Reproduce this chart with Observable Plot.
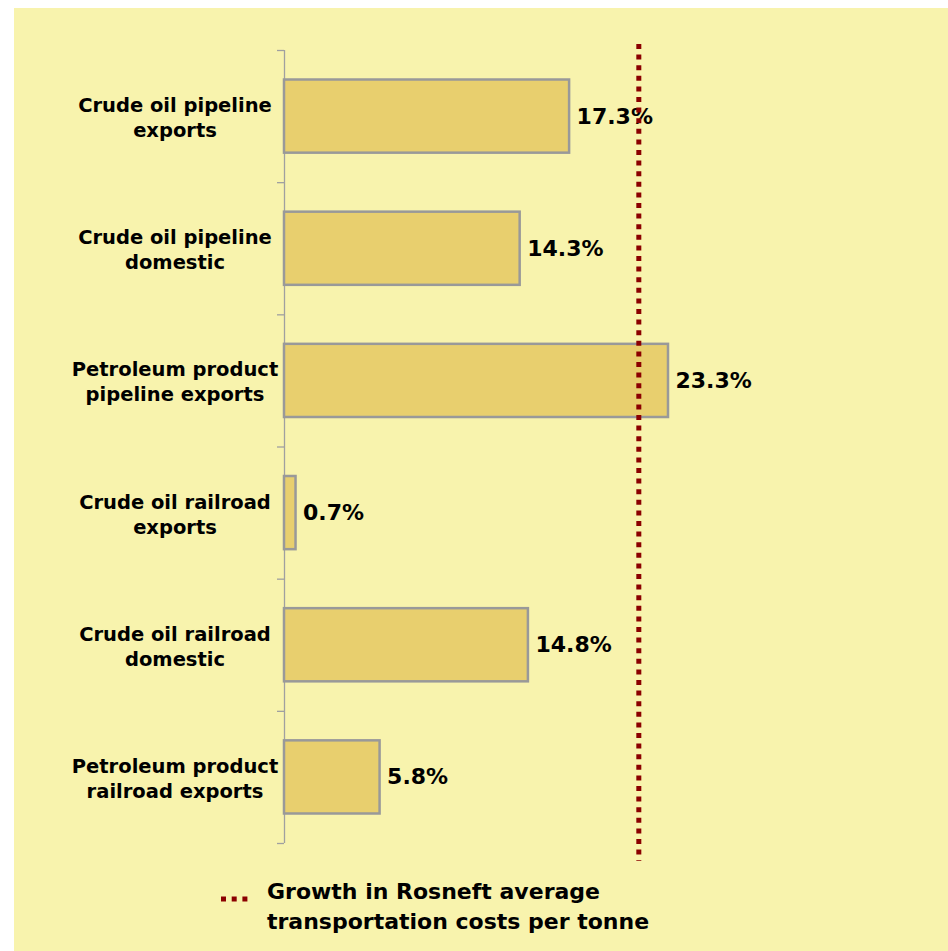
<!DOCTYPE html>
<html>
<head>
<meta charset="utf-8">
<script src="https://cdn.jsdelivr.net/npm/d3@7"></script>
<script src="https://cdn.jsdelivr.net/npm/@observablehq/plot@0.6"></script>
<style>
  html, body { margin: 0; padding: 0; background: #ffffff; }
  #panel {
    position: absolute; left: 14px; top: 8px; width: 934px; height: 943px;
    background: #F8F3AD; overflow: hidden;
    font-family: "DejaVu Sans", sans-serif; font-weight: bold; color: #000;
  }
  #legend {
    position: absolute; left: 207px; top: 869px;
    display: flex; align-items: flex-start;
  }
  #legend svg { margin-top: 19px; }
  #legend .txt {
    margin-left: 18px; font-size: 22px; line-height: 30px; white-space: pre;
  }
</style>
</head>
<body>
<div id="panel">
  <div id="chart"></div>
  <div id="legend"></div>
</div>
<script>
// ---- data ----
const categories = [
  "Crude oil pipeline\nexports",
  "Crude oil pipeline\ndomestic",
  "Petroleum product\npipeline exports",
  "Crude oil railroad\nexports",
  "Crude oil railroad\ndomestic",
  "Petroleum product\nrailroad exports"
];
const growth = [17.3, 14.3, 23.3, 0.7, 14.8, 5.8];
const averageGrowth = 21.5;
const legendLabel = "Growth in Rosneft average\ntransportation costs per tonne";

// ---- table ----
const rows = categories.map((c, i) => ({category: c, value: growth[i], index: i}));
const boundaries = d3.range(0, categories.length + 1);
const centers = categories.map((c, i) => i + 0.5);

const barFill = "#E8CF6E";
const barStroke = "#999999";
const axisGray = "#A0A0A0";
const red = "#8B0000";

const chart = Plot.plot({
  width: 934,
  height: 858,
  marginLeft: 270,
  marginRight: 252,
  marginTop: 42,
  marginBottom: 23,
  style: {background: "transparent", fontFamily: "'DejaVu Sans', sans-serif", fontWeight: "bold", color: "#000", overflow: "visible"},
  x: {domain: [0, 25], axis: null},
  y: {domain: [0, categories.length], reverse: true, axis: null},
  marks: [
    Plot.ruleX([0], {stroke: axisGray, strokeWidth: 1.3}),
    Plot.axisY(boundaries, {tickSize: 7, tickFormat: () => "", label: null, stroke: axisGray, strokeWidth: 1.3}),
    Plot.axisY(centers, {
      tickSize: 0, tickPadding: 109.5, textAnchor: "middle", label: null,
      tickFormat: (d) => categories[Math.floor(d)],
      fontSize: 19.5, lineHeight: 1.28, fill: "#000"
    }),
    Plot.rectX(rows, {
      x1: 0, x2: "value",
      y1: "index", y2: (d) => d.index + 1,
      insetTop: 29.5, insetBottom: 29.5,
      fill: barFill, stroke: barStroke, strokeWidth: 2.5
    }),
    Plot.text(rows, {
      x: "value", y: (d) => d.index + 0.5,
      text: (d) => d.value.toFixed(1) + "%",
      textAnchor: "start", dx: 7, fontSize: 22, fill: "#000"
    }),
    Plot.ruleX([averageGrowth], {
      stroke: red, strokeWidth: 5, strokeDasharray: "5 5.6",
      insetTop: -6, insetBottom: -18
    })
  ]
});
document.getElementById("chart").appendChild(chart);

// ---- legend ----
const legend = document.getElementById("legend");
const sw = d3.create("svg").attr("width", 28).attr("height", 6);
sw.append("line").attr("x1", 0).attr("x2", 28).attr("y1", 3).attr("y2", 3)
  .attr("stroke", red).attr("stroke-width", 5).attr("stroke-dasharray", "5 5.7");
legend.appendChild(sw.node());
const txt = document.createElement("div");
txt.className = "txt";
txt.textContent = legendLabel;
legend.appendChild(txt);
</script>
</body>
</html>
